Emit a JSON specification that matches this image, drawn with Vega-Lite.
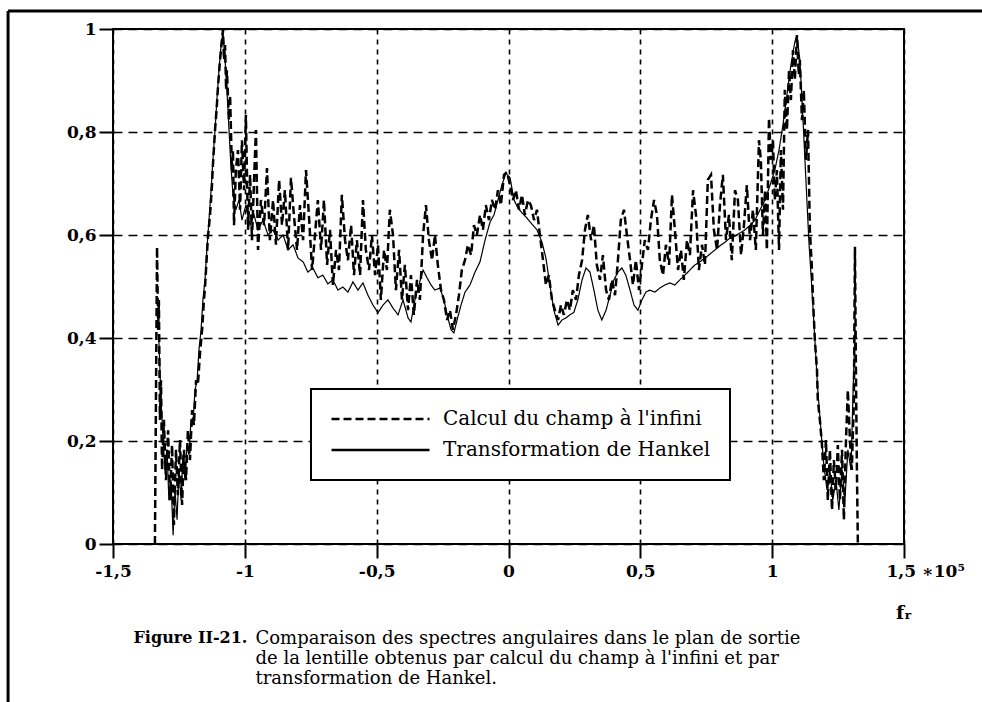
{
  "$schema": "https://vega.github.io/schema/vega-lite/v6.json",
  "width": 791,
  "height": 515,
  "autosize": {"type": "none"},
  "padding": {"left": 113, "top": 29, "right": 78, "bottom": 158},
  "background": "white",
  "datasets": {
    "calcul": [
      {"f":-1.341,"a":0},{"f":-1.333,"a":0.577},{"f":-1.329,"a":0.416},{"f":-1.326,"a":0.474},{"f":-1.322,"a":0.241},{"f":-1.318,"a":0.318},{"f":-1.314,"a":0.144},{"f":-1.307,"a":0.241},{"f":-1.299,"a":0.124},{"f":-1.291,"a":0.221},{"f":-1.284,"a":0.085},{"f":-1.276,"a":0.192},{"f":-1.269,"a":0.037},{"f":-1.261,"a":0.183},{"f":-1.254,"a":0.095},{"f":-1.246,"a":0.202},{"f":-1.238,"a":0.076},{"f":-1.231,"a":0.183},{"f":-1.223,"a":0.124},{"f":-1.216,"a":0.221},{"f":-1.208,"a":0.163},{"f":-1.2,"a":0.26},{"f":-1.193,"a":0.231},{"f":-1.185,"a":0.318},{"f":-1.178,"a":0.309},{"f":-1.17,"a":0.371},{"f":-1.162,"a":0.416},{"f":-1.155,"a":0.474},{"f":-1.151,"a":0.499},{"f":-1.144,"a":0.561},{"f":-1.14,"a":0.596},{"f":-1.132,"a":0.639},{"f":-1.125,"a":0.693},{"f":-1.121,"a":0.736},{"f":-1.113,"a":0.804},{"f":-1.106,"a":0.852},{"f":-1.102,"a":0.887},{"f":-1.094,"a":0.94},{"f":-1.087,"a":0.979},{"f":-1.083,"a":0.998},{"f":-1.079,"a":0.94},{"f":-1.075,"a":0.969},{"f":-1.071,"a":0.882},{"f":-1.068,"a":0.92},{"f":-1.06,"a":0.823},{"f":-1.056,"a":0.872},{"f":-1.049,"a":0.726},{"f":-1.045,"a":0.765},{"f":-1.041,"a":0.619},{"f":-1.034,"a":0.726},{"f":-1.026,"a":0.765},{"f":-1.018,"a":0.649},{"f":-1.011,"a":0.784},{"f":-1.003,"a":0.687},{"f":-0.996,"a":0.833},{"f":-0.988,"a":0.61},{"f":-0.98,"a":0.717},{"f":-0.973,"a":0.59},{"f":-0.965,"a":0.707},{"f":-0.958,"a":0.804},{"f":-0.95,"a":0.571},{"f":-0.939,"a":0.668},{"f":-0.927,"a":0.619},{"f":-0.916,"a":0.73},{"f":-0.905,"a":0.59},{"f":-0.893,"a":0.668},{"f":-0.882,"a":0.581},{"f":-0.87,"a":0.707},{"f":-0.859,"a":0.619},{"f":-0.848,"a":0.687},{"f":-0.836,"a":0.571},{"f":-0.825,"a":0.711},{"f":-0.814,"a":0.639},{"f":-0.802,"a":0.571},{"f":-0.791,"a":0.658},{"f":-0.779,"a":0.59},{"f":-0.768,"a":0.726},{"f":-0.757,"a":0.639},{"f":-0.745,"a":0.532},{"f":-0.734,"a":0.6},{"f":-0.723,"a":0.668},{"f":-0.711,"a":0.571},{"f":-0.7,"a":0.668},{"f":-0.688,"a":0.542},{"f":-0.677,"a":0.61},{"f":-0.666,"a":0.503},{"f":-0.654,"a":0.571},{"f":-0.643,"a":0.532},{"f":-0.632,"a":0.678},{"f":-0.62,"a":0.59},{"f":-0.609,"a":0.551},{"f":-0.597,"a":0.619},{"f":-0.586,"a":0.522},{"f":-0.575,"a":0.59},{"f":-0.563,"a":0.522},{"f":-0.552,"a":0.668},{"f":-0.541,"a":0.571},{"f":-0.529,"a":0.532},{"f":-0.518,"a":0.6},{"f":-0.506,"a":0.522},{"f":-0.495,"a":0.581},{"f":-0.484,"a":0.474},{"f":-0.472,"a":0.571},{"f":-0.461,"a":0.532},{"f":-0.45,"a":0.649},{"f":-0.438,"a":0.6},{"f":-0.427,"a":0.493},{"f":-0.415,"a":0.571},{"f":-0.404,"a":0.474},{"f":-0.393,"a":0.542},{"f":-0.381,"a":0.454},{"f":-0.37,"a":0.522},{"f":-0.359,"a":0.445},{"f":-0.347,"a":0.513},{"f":-0.336,"a":0.474},{"f":-0.324,"a":0.6},{"f":-0.313,"a":0.658},{"f":-0.302,"a":0.59},{"f":-0.29,"a":0.551},{"f":-0.279,"a":0.6},{"f":-0.268,"a":0.542},{"f":-0.256,"a":0.493},{"f":-0.245,"a":0.474},{"f":-0.233,"a":0.435},{"f":-0.222,"a":0.454},{"f":-0.211,"a":0.416},{"f":-0.199,"a":0.445},{"f":-0.188,"a":0.483},{"f":-0.177,"a":0.532},{"f":-0.165,"a":0.551},{"f":-0.154,"a":0.581},{"f":-0.142,"a":0.561},{"f":-0.131,"a":0.619},{"f":-0.12,"a":0.6},{"f":-0.108,"a":0.639},{"f":-0.097,"a":0.61},{"f":-0.086,"a":0.658},{"f":-0.074,"a":0.629},{"f":-0.063,"a":0.668},{"f":-0.051,"a":0.649},{"f":-0.04,"a":0.687},{"f":-0.029,"a":0.658},{"f":-0.017,"a":0.717},{"f":-0.006,"a":0.722},{"f":0.006,"a":0.697},{"f":0.017,"a":0.668},{"f":0.028,"a":0.687},{"f":0.04,"a":0.649},{"f":0.051,"a":0.678},{"f":0.062,"a":0.639},{"f":0.074,"a":0.668},{"f":0.085,"a":0.658},{"f":0.097,"a":0.629},{"f":0.108,"a":0.649},{"f":0.119,"a":0.6},{"f":0.131,"a":0.551},{"f":0.142,"a":0.503},{"f":0.153,"a":0.522},{"f":0.165,"a":0.474},{"f":0.176,"a":0.454},{"f":0.188,"a":0.435},{"f":0.199,"a":0.464},{"f":0.21,"a":0.445},{"f":0.222,"a":0.474},{"f":0.233,"a":0.454},{"f":0.244,"a":0.493},{"f":0.256,"a":0.474},{"f":0.267,"a":0.522},{"f":0.279,"a":0.551},{"f":0.29,"a":0.61},{"f":0.301,"a":0.639},{"f":0.313,"a":0.59},{"f":0.324,"a":0.619},{"f":0.335,"a":0.542},{"f":0.347,"a":0.513},{"f":0.358,"a":0.561},{"f":0.37,"a":0.493},{"f":0.381,"a":0.474},{"f":0.392,"a":0.513},{"f":0.404,"a":0.483},{"f":0.415,"a":0.551},{"f":0.426,"a":0.629},{"f":0.438,"a":0.649},{"f":0.449,"a":0.6},{"f":0.461,"a":0.551},{"f":0.472,"a":0.503},{"f":0.483,"a":0.551},{"f":0.495,"a":0.493},{"f":0.506,"a":0.542},{"f":0.517,"a":0.59},{"f":0.529,"a":0.571},{"f":0.54,"a":0.629},{"f":0.552,"a":0.668},{"f":0.563,"a":0.639},{"f":0.574,"a":0.551},{"f":0.586,"a":0.522},{"f":0.597,"a":0.581},{"f":0.609,"a":0.542},{"f":0.62,"a":0.678},{"f":0.631,"a":0.61},{"f":0.643,"a":0.532},{"f":0.654,"a":0.571},{"f":0.665,"a":0.513},{"f":0.677,"a":0.59},{"f":0.688,"a":0.561},{"f":0.7,"a":0.687},{"f":0.711,"a":0.639},{"f":0.722,"a":0.532},{"f":0.734,"a":0.581},{"f":0.745,"a":0.542},{"f":0.756,"a":0.707},{"f":0.768,"a":0.717},{"f":0.779,"a":0.61},{"f":0.791,"a":0.571},{"f":0.802,"a":0.658},{"f":0.813,"a":0.717},{"f":0.825,"a":0.59},{"f":0.836,"a":0.639},{"f":0.847,"a":0.551},{"f":0.859,"a":0.687},{"f":0.87,"a":0.668},{"f":0.882,"a":0.561},{"f":0.893,"a":0.619},{"f":0.904,"a":0.697},{"f":0.916,"a":0.59},{"f":0.927,"a":0.649},{"f":0.938,"a":0.571},{"f":0.95,"a":0.784},{"f":0.957,"a":0.746},{"f":0.965,"a":0.6},{"f":0.973,"a":0.687},{"f":0.98,"a":0.571},{"f":0.988,"a":0.827},{"f":0.995,"a":0.746},{"f":1.003,"a":0.784},{"f":1.01,"a":0.668},{"f":1.018,"a":0.726},{"f":1.026,"a":0.571},{"f":1.033,"a":0.765},{"f":1.041,"a":0.649},{"f":1.048,"a":0.882},{"f":1.056,"a":0.804},{"f":1.064,"a":0.92},{"f":1.071,"a":0.862},{"f":1.079,"a":0.959},{"f":1.086,"a":0.901},{"f":1.094,"a":0.988},{"f":1.101,"a":0.911},{"f":1.105,"a":0.94},{"f":1.113,"a":0.823},{"f":1.12,"a":0.882},{"f":1.128,"a":0.746},{"f":1.136,"a":0.804},{"f":1.143,"a":0.61},{"f":1.151,"a":0.532},{"f":1.155,"a":0.474},{"f":1.162,"a":0.396},{"f":1.17,"a":0.338},{"f":1.173,"a":0.28},{"f":1.181,"a":0.241},{"f":1.189,"a":0.192},{"f":1.196,"a":0.124},{"f":1.204,"a":0.202},{"f":1.211,"a":0.085},{"f":1.219,"a":0.183},{"f":1.227,"a":0.066},{"f":1.234,"a":0.163},{"f":1.242,"a":0.105},{"f":1.249,"a":0.192},{"f":1.257,"a":0.085},{"f":1.265,"a":0.183},{"f":1.272,"a":0.047},{"f":1.28,"a":0.202},{"f":1.287,"a":0.299},{"f":1.295,"a":0.202},{"f":1.302,"a":0.144},{"f":1.31,"a":0.28},{"f":1.314,"a":0.577},{"f":1.318,"a":0.318},{"f":1.321,"a":0.163},{"f":1.325,"a":0}
    ],
    "hankel": [
      {"f":-1.326,"a":0.396},{"f":-1.318,"a":0.28},{"f":-1.31,"a":0.202},{"f":-1.303,"a":0.144},{"f":-1.295,"a":0.183},{"f":-1.288,"a":0.085},{"f":-1.28,"a":0.124},{"f":-1.272,"a":0.017},{"f":-1.265,"a":0.105},{"f":-1.257,"a":0.047},{"f":-1.25,"a":0.144},{"f":-1.242,"a":0.085},{"f":-1.235,"a":0.173},{"f":-1.227,"a":0.124},{"f":-1.219,"a":0.192},{"f":-1.212,"a":0.173},{"f":-1.204,"a":0.241},{"f":-1.197,"a":0.231},{"f":-1.189,"a":0.299},{"f":-1.181,"a":0.318},{"f":-1.174,"a":0.377},{"f":-1.166,"a":0.416},{"f":-1.159,"a":0.474},{"f":-1.151,"a":0.513},{"f":-1.144,"a":0.571},{"f":-1.136,"a":0.629},{"f":-1.128,"a":0.687},{"f":-1.121,"a":0.746},{"f":-1.113,"a":0.804},{"f":-1.106,"a":0.862},{"f":-1.098,"a":0.92},{"f":-1.09,"a":0.969},{"f":-1.083,"a":0.994},{"f":-1.075,"a":0.94},{"f":-1.068,"a":0.882},{"f":-1.06,"a":0.804},{"f":-1.053,"a":0.736},{"f":-1.045,"a":0.678},{"f":-1.034,"a":0.649},{"f":-1.022,"a":0.668},{"f":-1.011,"a":0.629},{"f":-0.996,"a":0.658},{"f":-0.98,"a":0.619},{"f":-0.965,"a":0.639},{"f":-0.95,"a":0.61},{"f":-0.931,"a":0.629},{"f":-0.912,"a":0.6},{"f":-0.893,"a":0.61},{"f":-0.874,"a":0.59},{"f":-0.855,"a":0.6},{"f":-0.836,"a":0.571},{"f":-0.817,"a":0.581},{"f":-0.798,"a":0.555},{"f":-0.779,"a":0.548},{"f":-0.761,"a":0.528},{"f":-0.742,"a":0.536},{"f":-0.723,"a":0.517},{"f":-0.704,"a":0.522},{"f":-0.685,"a":0.505},{"f":-0.666,"a":0.513},{"f":-0.647,"a":0.493},{"f":-0.628,"a":0.499},{"f":-0.609,"a":0.489},{"f":-0.59,"a":0.509},{"f":-0.571,"a":0.493},{"f":-0.552,"a":0.507},{"f":-0.533,"a":0.483},{"f":-0.514,"a":0.464},{"f":-0.495,"a":0.449},{"f":-0.476,"a":0.464},{"f":-0.457,"a":0.474},{"f":-0.438,"a":0.458},{"f":-0.419,"a":0.445},{"f":-0.4,"a":0.474},{"f":-0.381,"a":0.439},{"f":-0.37,"a":0.431},{"f":-0.355,"a":0.474},{"f":-0.34,"a":0.503},{"f":-0.324,"a":0.532},{"f":-0.309,"a":0.517},{"f":-0.294,"a":0.503},{"f":-0.279,"a":0.493},{"f":-0.26,"a":0.497},{"f":-0.245,"a":0.474},{"f":-0.23,"a":0.439},{"f":-0.218,"a":0.416},{"f":-0.207,"a":0.41},{"f":-0.195,"a":0.435},{"f":-0.18,"a":0.464},{"f":-0.165,"a":0.489},{"f":-0.146,"a":0.503},{"f":-0.127,"a":0.528},{"f":-0.108,"a":0.548},{"f":-0.089,"a":0.59},{"f":-0.07,"a":0.625},{"f":-0.055,"a":0.639},{"f":-0.04,"a":0.668},{"f":-0.025,"a":0.697},{"f":-0.01,"a":0.72},{"f":0.006,"a":0.711},{"f":0.021,"a":0.668},{"f":0.036,"a":0.652},{"f":0.051,"a":0.643},{"f":0.07,"a":0.633},{"f":0.089,"a":0.621},{"f":0.108,"a":0.61},{"f":0.127,"a":0.586},{"f":0.142,"a":0.555},{"f":0.157,"a":0.503},{"f":0.172,"a":0.454},{"f":0.188,"a":0.425},{"f":0.203,"a":0.435},{"f":0.218,"a":0.439},{"f":0.233,"a":0.445},{"f":0.248,"a":0.45},{"f":0.263,"a":0.474},{"f":0.279,"a":0.513},{"f":0.294,"a":0.536},{"f":0.309,"a":0.528},{"f":0.324,"a":0.493},{"f":0.339,"a":0.454},{"f":0.354,"a":0.435},{"f":0.37,"a":0.454},{"f":0.385,"a":0.483},{"f":0.4,"a":0.513},{"f":0.415,"a":0.528},{"f":0.43,"a":0.536},{"f":0.445,"a":0.522},{"f":0.461,"a":0.493},{"f":0.476,"a":0.464},{"f":0.491,"a":0.454},{"f":0.506,"a":0.474},{"f":0.521,"a":0.489},{"f":0.536,"a":0.493},{"f":0.555,"a":0.489},{"f":0.574,"a":0.497},{"f":0.593,"a":0.503},{"f":0.612,"a":0.507},{"f":0.631,"a":0.503},{"f":0.65,"a":0.513},{"f":0.669,"a":0.522},{"f":0.688,"a":0.532},{"f":0.707,"a":0.542},{"f":0.726,"a":0.548},{"f":0.745,"a":0.555},{"f":0.764,"a":0.563},{"f":0.783,"a":0.571},{"f":0.802,"a":0.579},{"f":0.821,"a":0.586},{"f":0.84,"a":0.594},{"f":0.859,"a":0.598},{"f":0.878,"a":0.604},{"f":0.897,"a":0.61},{"f":0.916,"a":0.619},{"f":0.935,"a":0.629},{"f":0.954,"a":0.649},{"f":0.973,"a":0.668},{"f":0.992,"a":0.697},{"f":1.01,"a":0.726},{"f":1.026,"a":0.765},{"f":1.041,"a":0.814},{"f":1.056,"a":0.872},{"f":1.071,"a":0.93},{"f":1.086,"a":0.975},{"f":1.094,"a":0.988},{"f":1.105,"a":0.94},{"f":1.117,"a":0.823},{"f":1.128,"a":0.707},{"f":1.139,"a":0.59},{"f":1.151,"a":0.493},{"f":1.162,"a":0.396},{"f":1.173,"a":0.299},{"f":1.185,"a":0.221},{"f":1.196,"a":0.153},{"f":1.208,"a":0.105},{"f":1.219,"a":0.144},{"f":1.23,"a":0.085},{"f":1.242,"a":0.124},{"f":1.253,"a":0.066},{"f":1.265,"a":0.144},{"f":1.276,"a":0.085},{"f":1.287,"a":0.183},{"f":1.299,"a":0.144},{"f":1.306,"a":0.28},{"f":1.314,"a":0.416}
    ],
    "note": [{"t": "fᵣ"}],
    "frame": [{"x0": -1.898, "x1": 1.8, "y0": 1.035, "y1": -0.31}]
  },
  "config": {
    "font": "DejaVu Serif",
    "view": {"stroke": "black", "strokeWidth": 2},
    "axis": {
      "domain": false,
      "gridColor": "black",
      "gridWidth": 1.6,
      "tickColor": "black",
      "tickWidth": 2,
      "tickSize": 14,
      "labelColor": "black",
      "labelFont": "DejaVu Serif",
      "labelFontWeight": "bold",
      "labelFontSize": 17,
      "labelFlush": false,
      "labelOverlap": false,
      "titleColor": "black",
      "titleFont": "DejaVu Serif"
    },
    "legend": {"strokeWidth": 2}
  },
  "layer": [
    {
      "data": {"name": "hankel"},
      "mark": {"type": "line", "color": "black", "strokeWidth": 1.2},
      "encoding": {
        "x": {
          "field": "f",
          "type": "quantitative",
          "scale": {"domain": [-1.5, 1.5], "nice": false, "zero": false},
          "axis": {
            "values": [-1.5, -1, -0.5, 0, 0.5, 1, 1.5],
            "gridDash": [5, 5],
            "labelPadding": 5,
            "labelExpr": "datum.value == 1.5 ? '1,5 ∗10⁵' : replace(toString(datum.value), '.', ',')",
            "labelAlign": {"condition": {"test": "datum.value == 1.5", "value": "left"}, "value": "center"},
            "labelOffset": {"condition": {"test": "datum.value == 1.5", "value": -18}, "value": 0},
            "title": ["Comparaison des spectres angulaires dans le plan de sortie", "de la lentille obtenus par calcul du champ à l'infini et par", "transformation de Hankel."],
            "titleX": 142,
            "titleY": 85,
            "titleAlign": "left",
            "titleAngle": 0,
            "titleBaseline": "top",
            "titleFontWeight": "normal",
            "titleFontSize": 18,
            "titleLineHeight": 20
          }
        },
        "y": {
          "field": "a",
          "type": "quantitative",
          "scale": {"domain": [0, 1], "nice": false},
          "axis": {
            "values": [0, 0.2, 0.4, 0.6, 0.8, 1],
            "gridDash": [9, 6],
            "labelPadding": 3,
            "labelExpr": "replace(toString(datum.value), '.', ',')",
            "title": "Figure II-21.",
            "titleX": 20,
            "titleY": 600,
            "titleAngle": 0,
            "titleAlign": "left",
            "titleBaseline": "top",
            "titleFontWeight": "bold",
            "titleFontSize": 16
          }
        },
        "strokeDash": {
          "datum": "Transformation de Hankel",
          "scale": {"domain": ["Calcul du champ à l'infini", "Transformation de Hankel"], "range": [[8, 4], [1, 0]]},
          "legend": {
            "orient": "none",
            "legendX": 198,
            "legendY": 360,
            "title": null,
            "fillColor": "white",
            "strokeColor": "black",
            "padding": 19,
            "symbolType": "stroke",
            "symbolSize": 9604,
            "symbolStrokeWidth": 2.5,
            "symbolStrokeColor": "black",
            "labelFont": "DejaVu Serif",
            "labelFontSize": 20,
            "labelFontWeight": "normal",
            "labelColor": "black",
            "labelOffset": 12,
            "labelLimit": 400,
            "clipHeight": 22,
            "rowPadding": 9
          }
        }
      }
    },
    {
      "data": {"name": "calcul"},
      "mark": {"type": "line", "color": "black", "strokeWidth": 2.5},
      "encoding": {
        "x": {"field": "f", "type": "quantitative"},
        "y": {"field": "a", "type": "quantitative"},
        "strokeDash": {"datum": "Calcul du champ à l'infini"}
      }
    },
    {
      "data": {"name": "note"},
      "mark": {"type": "text", "dy": 69, "font": "DejaVu Serif", "fontWeight": "bold", "fontSize": 19, "align": "center", "baseline": "middle", "color": "black"},
      "encoding": {
        "x": {"datum": 1.5, "type": "quantitative"},
        "y": {"datum": 0, "type": "quantitative"},
        "text": {"field": "t", "type": "nominal"}
      }
    },
    {
      "data": {"name": "frame"},
      "mark": {"type": "rule", "color": "black", "strokeWidth": 3},
      "encoding": {
        "x": {"field": "x0", "type": "quantitative"},
        "y": {"field": "y0", "type": "quantitative"},
        "y2": {"field": "y1"}
      }
    },
    {
      "data": {"name": "frame"},
      "mark": {"type": "rule", "color": "black", "strokeWidth": 3},
      "encoding": {
        "x": {"field": "x0", "type": "quantitative"},
        "x2": {"field": "x1"},
        "y": {"field": "y0", "type": "quantitative"}
      }
    }
  ]
}
